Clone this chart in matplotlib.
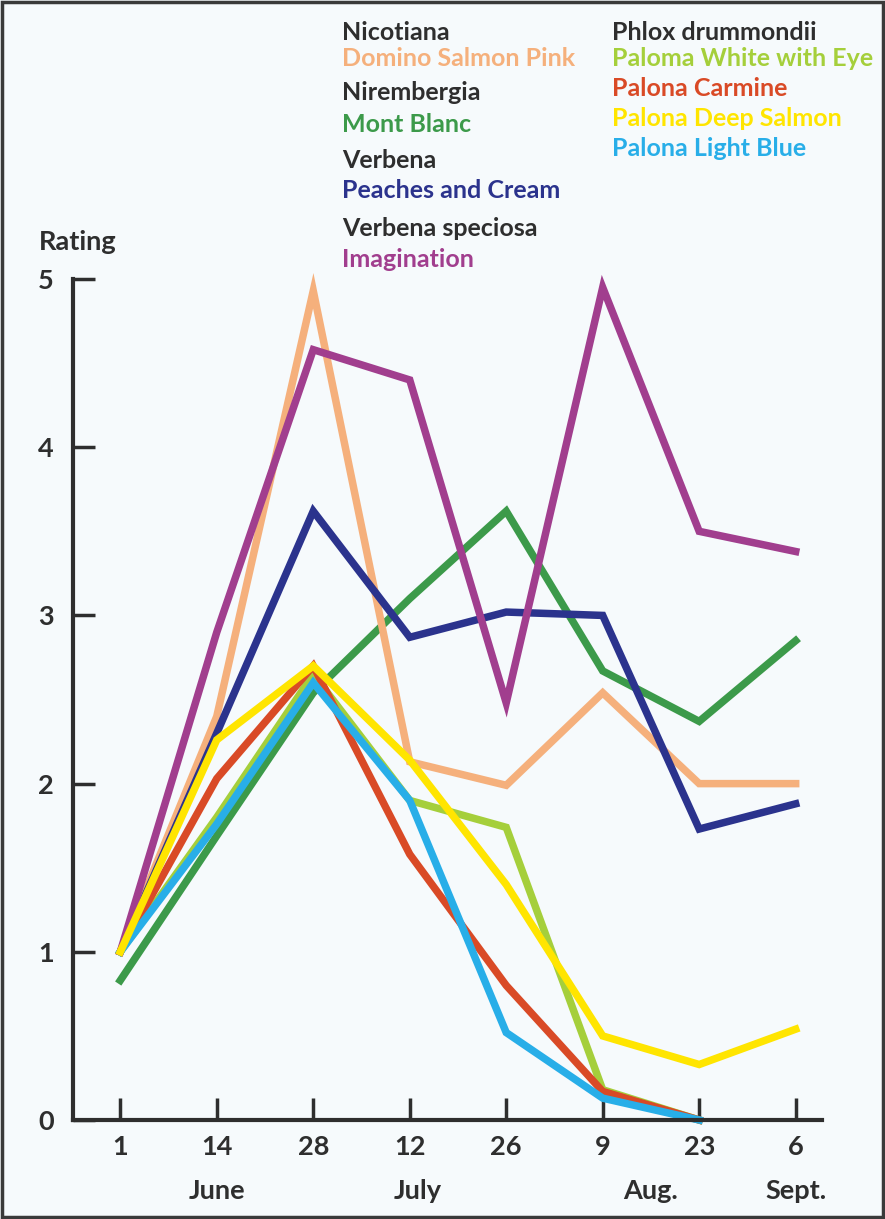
import matplotlib.pyplot as plt
from matplotlib.patches import Rectangle

plt.rcParams['font.family'] = ['Lato', 'DejaVu Sans']
plt.rcParams['font.weight'] = 'bold'

dates = ['1', '14', '28', '12', '26', '9', '23', '6']
months = ['June', 'July', 'Aug.', 'Sept.']
month_pos = [1, 3.08, 5.5, 7]

domino_salmon_pink = [1.0, 2.4, 4.93, 2.13, 1.99, 2.54, 2.0, 2.0]
mont_blanc = [0.83, 1.69, 2.54, 3.1, 3.62, 2.67, 2.37, 2.85]
peaches_and_cream = [1.0, 2.3, 3.62, 2.87, 3.02, 3.0, 1.73, 1.88]
imagination = [1.0, 2.9, 4.58, 4.4, 2.48, 4.95, 3.5, 3.38]
paloma_white = [1.0, 1.8, 2.65, 1.9, 1.74, 0.18, 0.0]
palona_carmine = [1.0, 2.03, 2.7, 1.58, 0.8, 0.17, 0.0]
palona_deep_salmon = [1.0, 2.26, 2.7, 2.14, 1.4, 0.5, 0.33, 0.54]
palona_light_blue = [1.0, 1.76, 2.6, 1.9, 0.52, 0.13, 0.0]

fig = plt.figure(figsize=(8.85, 12.19), dpi=100)
fig.patch.set_facecolor('#f6fafc')
fig.add_artist(Rectangle((0.002, 0.002), 0.996, 0.996, transform=fig.transFigure,
                         fill=False, edgecolor='#3a3a3a', lw=2.5))

ax = fig.add_axes([0.0825, 0.0812, 0.846, 0.6899])
ax.set_facecolor('none')
dark = '#2e2e2e'

series = [
    (mont_blanc, '#3c9a4a'),
    (domino_salmon_pink, '#f5b07c'),
    (peaches_and_cream, '#2b338d'),
    (imagination, '#a13e8e'),
    (paloma_white, '#a5cf3b'),
    (palona_carmine, '#d94a26'),
    (palona_light_blue, '#28aee8'),
    (palona_deep_salmon, '#ffe500'),
]
for vals, c in series:
    ax.plot(range(len(vals)), vals, color=c, lw=5.4, clip_on=False,
            solid_joinstyle='miter')

ax.set_xlim(-0.49, 7.27)
ax.set_ylim(0, 5)
for s in ['top', 'right']:
    ax.spines[s].set_visible(False)
for s in ['left', 'bottom']:
    ax.spines[s].set_linewidth(3)
    ax.spines[s].set_color(dark)
ax.set_xticks(range(len(dates)))
ax.set_xticklabels(dates)
ax.set_yticks(range(6))
ax.tick_params(axis='both', direction='in', width=2.5, color=dark,
               labelcolor=dark, labelsize=19.5)
ax.tick_params(axis='x', length=16, pad=11)
ax.tick_params(axis='y', length=16, pad=14)

for m, p in zip(months, month_pos):
    ax.text(p, -0.42, m, ha='center', va='center', fontsize=19.5,
            color=dark, fontweight='bold')
fig.text(39 / 885, 1 - 242 / 1219, 'Rating', ha='left', va='center',
         fontsize=19.5, color=dark, fontweight='bold')

legend_left = [
    ('Nicotiana', dark, 32),
    ('Domino Salmon Pink', '#f5b07c', 59),
    ('Nirembergia', dark, 93),
    ('Mont Blanc', '#3c9a4a', 124),
    ('Verbena', dark, 160),
    ('Peaches and Cream', '#2b338d', 190),
    ('Verbena speciosa', dark, 229),
    ('Imagination', '#a13e8e', 260),
]
legend_right = [
    ('Phlox drummondii', dark, 32),
    ('Paloma White with Eye', '#a5cf3b', 59),
    ('Palona Carmine', '#d94a26', 88),
    ('Palona Deep Salmon', '#ffe500', 118),
    ('Palona Light Blue', '#28aee8', 148),
]
for items, x0 in [(legend_left, 342), (legend_right, 612)]:
    for label, c, y0 in items:
        fig.text(x0 / 885, 1 - y0 / 1219, label, ha='left', va='center',
                 fontsize=18, color=c, fontweight='bold')

fig.savefig('out.png', dpi=100, facecolor=fig.get_facecolor())
